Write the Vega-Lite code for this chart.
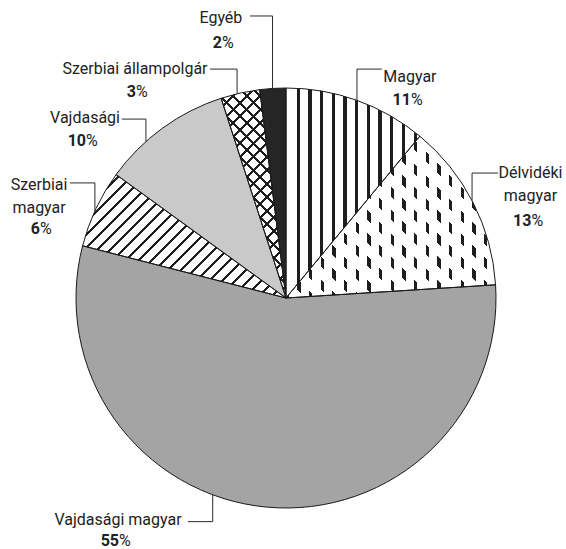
{
  "$schema": "https://vega.github.io/schema/vega-lite/v6.json",
  "width": 560,
  "height": 502,
  "autosize": "none",
  "padding": {"left": 6, "top": 47, "right": 0, "bottom": 0},
  "background": "white",
  "config": {"view": {"stroke": null}},
  "datasets": {
    "shares": [
      {"category": "Magyar", "value": 11},
      {"category": "Délvidéki magyar", "value": 13},
      {"category": "Vajdasági magyar", "value": 55},
      {"category": "Szerbiai magyar", "value": 6},
      {"category": "Vajdasági", "value": 10},
      {"category": "Szerbiai állampolgár", "value": 3},
      {"category": "Egyéb", "value": 2}
    ],
    "labels": [
      {"category": "Magyar", "name": "Magyar", "lx": 0.59, "ly": 1.027, "py": 0.919},
      {"category": "Délvidéki magyar", "name": "Délvidéki\nmagyar", "lx": 1.164, "ly": 0.57, "py": 0.343},
      {"category": "Vajdasági magyar", "name": "Vajdasági magyar", "lx": -0.8, "ly": -1.0786, "py": -1.181},
      {"category": "Szerbiai magyar", "name": "Szerbiai\nmagyar", "lx": -1.176, "ly": 0.514, "py": 0.303},
      {"category": "Vajdasági", "name": "Vajdasági", "lx": -0.957, "ly": 0.835, "py": 0.724},
      {"category": "Szerbiai állampolgár", "name": "Szerbiai állampolgár", "lx": -0.719, "ly": 1.065, "py": 0.959},
      {"category": "Egyéb", "name": "Egyéb", "lx": -0.31, "ly": 1.308, "py": 1.19}
    ],
    "leaders": [
      {"category": "Magyar", "i": 0, "x": 0.456, "y": 1.09},
      {"category": "Magyar", "i": 1, "x": 0.338, "y": 1.09},
      {"category": "Magyar", "i": 2, "x": 0.338, "y": 0.94},
      {"category": "Délvidéki magyar", "i": 0, "x": 1.01, "y": 0.595},
      {"category": "Délvidéki magyar", "i": 1, "x": 0.886, "y": 0.595},
      {"category": "Délvidéki magyar", "i": 2, "x": 0.886, "y": 0.464},
      {"category": "Vajdasági magyar", "i": 0, "x": -0.467, "y": -1.065},
      {"category": "Vajdasági magyar", "i": 1, "x": -0.349, "y": -1.065},
      {"category": "Vajdasági magyar", "i": 2, "x": -0.349, "y": -0.937},
      {"category": "Szerbiai magyar", "i": 0, "x": -1.029, "y": 0.548},
      {"category": "Szerbiai magyar", "i": 1, "x": -0.91, "y": 0.548},
      {"category": "Szerbiai magyar", "i": 2, "x": -0.91, "y": 0.415},
      {"category": "Vajdasági", "i": 0, "x": -0.782, "y": 0.852},
      {"category": "Vajdasági", "i": 1, "x": -0.667, "y": 0.852},
      {"category": "Vajdasági", "i": 2, "x": -0.667, "y": 0.745},
      {"category": "Szerbiai állampolgár", "i": 0, "x": -0.362, "y": 1.09},
      {"category": "Szerbiai állampolgár", "i": 1, "x": -0.233, "y": 1.09},
      {"category": "Szerbiai állampolgár", "i": 2, "x": -0.233, "y": 0.972},
      {"category": "Egyéb", "i": 0, "x": -0.171, "y": 1.343},
      {"category": "Egyéb", "i": 1, "x": -0.064, "y": 1.343},
      {"category": "Egyéb", "i": 2, "x": -0.064, "y": 0.998}
    ]
  },
  "layer": [
    {
      "data": {"name": "shares"},
      "transform": [{"stack": "value", "groupby": [], "as": ["v0", "v1"]}],
      "encoding": {
        "theta": {"field": "v0", "type": "quantitative", "scale": {"domain": [0, 100]}},
        "theta2": {"field": "v1"}
      },
      "layer": [
        {
          "transform": [{"filter": "datum.category === 'Magyar'"}],
          "mark": {"type": "arc", "radius": 210, "fill": {"gradient": "linear", "x1": 0, "y1": 0, "x2": 1, "y2": 0, "stops": [
            {"offset": 0, "color": "#ffffff"}, {"offset": 0.0785, "color": "#ffffff"}, {"offset": 0.0785, "color": "#1e1e1e"}, {"offset": 0.1031, "color": "#1e1e1e"}, {"offset": 0.1031, "color": "#ffffff"},
            {"offset": 0.1659, "color": "#ffffff"}, {"offset": 0.1659, "color": "#1e1e1e"}, {"offset": 0.1906, "color": "#1e1e1e"}, {"offset": 0.1906, "color": "#ffffff"},
            {"offset": 0.2534, "color": "#ffffff"}, {"offset": 0.2534, "color": "#1e1e1e"}, {"offset": 0.278, "color": "#1e1e1e"}, {"offset": 0.278, "color": "#ffffff"},
            {"offset": 0.3408, "color": "#ffffff"}, {"offset": 0.3408, "color": "#1e1e1e"}, {"offset": 0.3655, "color": "#1e1e1e"}, {"offset": 0.3655, "color": "#ffffff"},
            {"offset": 0.4283, "color": "#ffffff"}, {"offset": 0.4283, "color": "#1e1e1e"}, {"offset": 0.4529, "color": "#1e1e1e"}, {"offset": 0.4529, "color": "#ffffff"},
            {"offset": 0.5157, "color": "#ffffff"}, {"offset": 0.5157, "color": "#1e1e1e"}, {"offset": 0.5404, "color": "#1e1e1e"}, {"offset": 0.5404, "color": "#ffffff"},
            {"offset": 0.6031, "color": "#ffffff"}, {"offset": 0.6031, "color": "#1e1e1e"}, {"offset": 0.6278, "color": "#1e1e1e"}, {"offset": 0.6278, "color": "#ffffff"},
            {"offset": 0.6906, "color": "#ffffff"}, {"offset": 0.6906, "color": "#1e1e1e"}, {"offset": 0.7152, "color": "#1e1e1e"}, {"offset": 0.7152, "color": "#ffffff"},
            {"offset": 0.778, "color": "#ffffff"}, {"offset": 0.778, "color": "#1e1e1e"}, {"offset": 0.8027, "color": "#1e1e1e"}, {"offset": 0.8027, "color": "#ffffff"},
            {"offset": 0.8655, "color": "#ffffff"}, {"offset": 0.8655, "color": "#1e1e1e"}, {"offset": 0.8901, "color": "#1e1e1e"}, {"offset": 0.8901, "color": "#ffffff"},
            {"offset": 0.9529, "color": "#ffffff"}, {"offset": 0.9529, "color": "#1e1e1e"}, {"offset": 0.9776, "color": "#1e1e1e"}, {"offset": 0.9776, "color": "#ffffff"},
            {"offset": 1, "color": "#ffffff"}]}}
        },
        {
          "transform": [{"filter": "datum.category === 'Délvidéki magyar'"}],
          "mark": {"type": "arc", "radius": 210, "fill": {"gradient": "linear", "x1": 0, "y1": 0, "x2": 1, "y2": 0, "stops": [
            {"offset": 0, "color": "#1e1e1e"}, {"offset": 0.01455, "color": "#1e1e1e"}, {"offset": 0.01455, "color": "#ffffff"},
            {"offset": 0.05448, "color": "#ffffff"}, {"offset": 0.05448, "color": "#1e1e1e"}, {"offset": 0.07023, "color": "#1e1e1e"}, {"offset": 0.07023, "color": "#ffffff"},
            {"offset": 0.11016, "color": "#ffffff"}, {"offset": 0.11016, "color": "#1e1e1e"}, {"offset": 0.1259, "color": "#1e1e1e"}, {"offset": 0.1259, "color": "#ffffff"},
            {"offset": 0.16584, "color": "#ffffff"}, {"offset": 0.16584, "color": "#1e1e1e"}, {"offset": 0.18158, "color": "#1e1e1e"}, {"offset": 0.18158, "color": "#ffffff"},
            {"offset": 0.22152, "color": "#ffffff"}, {"offset": 0.22152, "color": "#1e1e1e"}, {"offset": 0.23726, "color": "#1e1e1e"}, {"offset": 0.23726, "color": "#ffffff"},
            {"offset": 0.2772, "color": "#ffffff"}, {"offset": 0.2772, "color": "#1e1e1e"}, {"offset": 0.29294, "color": "#1e1e1e"}, {"offset": 0.29294, "color": "#ffffff"},
            {"offset": 0.33287, "color": "#ffffff"}, {"offset": 0.33287, "color": "#1e1e1e"}, {"offset": 0.34862, "color": "#1e1e1e"}, {"offset": 0.34862, "color": "#ffffff"},
            {"offset": 0.38855, "color": "#ffffff"}, {"offset": 0.38855, "color": "#1e1e1e"}, {"offset": 0.4043, "color": "#1e1e1e"}, {"offset": 0.4043, "color": "#ffffff"},
            {"offset": 0.44423, "color": "#ffffff"}, {"offset": 0.44423, "color": "#1e1e1e"}, {"offset": 0.45997, "color": "#1e1e1e"}, {"offset": 0.45997, "color": "#ffffff"},
            {"offset": 0.4999, "color": "#ffffff"}, {"offset": 0.4999, "color": "#1e1e1e"}, {"offset": 0.51565, "color": "#1e1e1e"}, {"offset": 0.51565, "color": "#ffffff"},
            {"offset": 0.55558, "color": "#ffffff"}, {"offset": 0.55558, "color": "#1e1e1e"}, {"offset": 0.57133, "color": "#1e1e1e"}, {"offset": 0.57133, "color": "#ffffff"},
            {"offset": 0.61126, "color": "#ffffff"}, {"offset": 0.61126, "color": "#1e1e1e"}, {"offset": 0.627, "color": "#1e1e1e"}, {"offset": 0.627, "color": "#ffffff"},
            {"offset": 0.66694, "color": "#ffffff"}, {"offset": 0.66694, "color": "#1e1e1e"}, {"offset": 0.68268, "color": "#1e1e1e"}, {"offset": 0.68268, "color": "#ffffff"},
            {"offset": 0.72262, "color": "#ffffff"}, {"offset": 0.72262, "color": "#1e1e1e"}, {"offset": 0.73836, "color": "#1e1e1e"}, {"offset": 0.73836, "color": "#ffffff"},
            {"offset": 0.77829, "color": "#ffffff"}, {"offset": 0.77829, "color": "#1e1e1e"}, {"offset": 0.79404, "color": "#1e1e1e"}, {"offset": 0.79404, "color": "#ffffff"},
            {"offset": 0.83397, "color": "#ffffff"}, {"offset": 0.83397, "color": "#1e1e1e"}, {"offset": 0.84971, "color": "#1e1e1e"}, {"offset": 0.84971, "color": "#ffffff"},
            {"offset": 0.88965, "color": "#ffffff"}, {"offset": 0.88965, "color": "#1e1e1e"}, {"offset": 0.90539, "color": "#1e1e1e"}, {"offset": 0.90539, "color": "#ffffff"},
            {"offset": 0.94532, "color": "#ffffff"}, {"offset": 0.94532, "color": "#1e1e1e"}, {"offset": 0.96107, "color": "#1e1e1e"}, {"offset": 0.96107, "color": "#ffffff"},
            {"offset": 1, "color": "#ffffff"}]}}
        },
        {
          "transform": [{"filter": "datum.category === 'Délvidéki magyar'"}],
          "mark": {"type": "arc", "radius": 210, "fill": {"gradient": "linear", "x1": 1, "y1": 0, "x2": -0.1103, "y2": 0.8571, "stops": [
            {"offset": 0, "color": "rgba(255,255,255,0)"}, {"offset": 0.0051, "color": "rgba(255,255,255,0)"}, {"offset": 0.0051, "color": "#ffffff"},
            {"offset": 0.0409, "color": "#ffffff"}, {"offset": 0.0409, "color": "rgba(255,255,255,0)"}, {"offset": 0.0679, "color": "rgba(255,255,255,0)"}, {"offset": 0.0679, "color": "#ffffff"},
            {"offset": 0.1037, "color": "#ffffff"}, {"offset": 0.1037, "color": "rgba(255,255,255,0)"}, {"offset": 0.1306, "color": "rgba(255,255,255,0)"}, {"offset": 0.1306, "color": "#ffffff"},
            {"offset": 0.1664, "color": "#ffffff"}, {"offset": 0.1664, "color": "rgba(255,255,255,0)"}, {"offset": 0.1933, "color": "rgba(255,255,255,0)"}, {"offset": 0.1933, "color": "#ffffff"},
            {"offset": 0.2291, "color": "#ffffff"}, {"offset": 0.2291, "color": "rgba(255,255,255,0)"}, {"offset": 0.2561, "color": "rgba(255,255,255,0)"}, {"offset": 0.2561, "color": "#ffffff"},
            {"offset": 0.2919, "color": "#ffffff"}, {"offset": 0.2919, "color": "rgba(255,255,255,0)"}, {"offset": 0.3188, "color": "rgba(255,255,255,0)"}, {"offset": 0.3188, "color": "#ffffff"},
            {"offset": 0.3546, "color": "#ffffff"}, {"offset": 0.3546, "color": "rgba(255,255,255,0)"}, {"offset": 0.3815, "color": "rgba(255,255,255,0)"}, {"offset": 0.3815, "color": "#ffffff"},
            {"offset": 0.4173, "color": "#ffffff"}, {"offset": 0.4173, "color": "rgba(255,255,255,0)"}, {"offset": 0.4443, "color": "rgba(255,255,255,0)"}, {"offset": 0.4443, "color": "#ffffff"},
            {"offset": 0.4801, "color": "#ffffff"}, {"offset": 0.4801, "color": "rgba(255,255,255,0)"}, {"offset": 0.507, "color": "rgba(255,255,255,0)"}, {"offset": 0.507, "color": "#ffffff"},
            {"offset": 0.5428, "color": "#ffffff"}, {"offset": 0.5428, "color": "rgba(255,255,255,0)"}, {"offset": 0.5697, "color": "rgba(255,255,255,0)"}, {"offset": 0.5697, "color": "#ffffff"},
            {"offset": 0.6055, "color": "#ffffff"}, {"offset": 0.6055, "color": "rgba(255,255,255,0)"}, {"offset": 0.6325, "color": "rgba(255,255,255,0)"}, {"offset": 0.6325, "color": "#ffffff"},
            {"offset": 0.6683, "color": "#ffffff"}, {"offset": 0.6683, "color": "rgba(255,255,255,0)"}, {"offset": 0.6952, "color": "rgba(255,255,255,0)"}, {"offset": 0.6952, "color": "#ffffff"},
            {"offset": 0.731, "color": "#ffffff"}, {"offset": 0.731, "color": "rgba(255,255,255,0)"}, {"offset": 0.7579, "color": "rgba(255,255,255,0)"}, {"offset": 0.7579, "color": "#ffffff"},
            {"offset": 0.7937, "color": "#ffffff"}, {"offset": 0.7937, "color": "rgba(255,255,255,0)"}, {"offset": 0.8207, "color": "rgba(255,255,255,0)"}, {"offset": 0.8207, "color": "#ffffff"},
            {"offset": 0.8565, "color": "#ffffff"}, {"offset": 0.8565, "color": "rgba(255,255,255,0)"}, {"offset": 0.8834, "color": "rgba(255,255,255,0)"}, {"offset": 0.8834, "color": "#ffffff"},
            {"offset": 0.9192, "color": "#ffffff"}, {"offset": 0.9192, "color": "rgba(255,255,255,0)"}, {"offset": 0.9462, "color": "rgba(255,255,255,0)"}, {"offset": 0.9462, "color": "#ffffff"},
            {"offset": 0.982, "color": "#ffffff"}, {"offset": 0.982, "color": "rgba(255,255,255,0)"}, {"offset": 1, "color": "rgba(255,255,255,0)"}]}}
        },
        {
          "transform": [{"filter": "datum.category === 'Vajdasági magyar'"}],
          "mark": {"type": "arc", "radius": 210, "fill": "#a4a4a4"}
        },
        {
          "transform": [{"filter": "datum.category === 'Szerbiai magyar'"}],
          "mark": {"type": "arc", "radius": 210, "fill": {"gradient": "linear", "x1": 0, "y1": 0, "x2": 1.1744, "y2": 0.7125, "stops": [
            {"offset": 0, "color": "#ffffff"}, {"offset": 0.03075, "color": "#ffffff"}, {"offset": 0.03075, "color": "#1e1e1e"}, {"offset": 0.04146, "color": "#1e1e1e"}, {"offset": 0.04146, "color": "#ffffff"},
            {"offset": 0.07053, "color": "#ffffff"}, {"offset": 0.07053, "color": "#1e1e1e"}, {"offset": 0.08124, "color": "#1e1e1e"}, {"offset": 0.08124, "color": "#ffffff"},
            {"offset": 0.11031, "color": "#ffffff"}, {"offset": 0.11031, "color": "#1e1e1e"}, {"offset": 0.12102, "color": "#1e1e1e"}, {"offset": 0.12102, "color": "#ffffff"},
            {"offset": 0.15009, "color": "#ffffff"}, {"offset": 0.15009, "color": "#1e1e1e"}, {"offset": 0.1608, "color": "#1e1e1e"}, {"offset": 0.1608, "color": "#ffffff"},
            {"offset": 0.18987, "color": "#ffffff"}, {"offset": 0.18987, "color": "#1e1e1e"}, {"offset": 0.20058, "color": "#1e1e1e"}, {"offset": 0.20058, "color": "#ffffff"},
            {"offset": 0.22965, "color": "#ffffff"}, {"offset": 0.22965, "color": "#1e1e1e"}, {"offset": 0.24036, "color": "#1e1e1e"}, {"offset": 0.24036, "color": "#ffffff"},
            {"offset": 0.26943, "color": "#ffffff"}, {"offset": 0.26943, "color": "#1e1e1e"}, {"offset": 0.28014, "color": "#1e1e1e"}, {"offset": 0.28014, "color": "#ffffff"},
            {"offset": 0.30921, "color": "#ffffff"}, {"offset": 0.30921, "color": "#1e1e1e"}, {"offset": 0.31992, "color": "#1e1e1e"}, {"offset": 0.31992, "color": "#ffffff"},
            {"offset": 0.34899, "color": "#ffffff"}, {"offset": 0.34899, "color": "#1e1e1e"}, {"offset": 0.3597, "color": "#1e1e1e"}, {"offset": 0.3597, "color": "#ffffff"},
            {"offset": 0.38877, "color": "#ffffff"}, {"offset": 0.38877, "color": "#1e1e1e"}, {"offset": 0.39948, "color": "#1e1e1e"}, {"offset": 0.39948, "color": "#ffffff"},
            {"offset": 0.42855, "color": "#ffffff"}, {"offset": 0.42855, "color": "#1e1e1e"}, {"offset": 0.43926, "color": "#1e1e1e"}, {"offset": 0.43926, "color": "#ffffff"},
            {"offset": 0.46833, "color": "#ffffff"}, {"offset": 0.46833, "color": "#1e1e1e"}, {"offset": 0.47904, "color": "#1e1e1e"}, {"offset": 0.47904, "color": "#ffffff"},
            {"offset": 0.50811, "color": "#ffffff"}, {"offset": 0.50811, "color": "#1e1e1e"}, {"offset": 0.51882, "color": "#1e1e1e"}, {"offset": 0.51882, "color": "#ffffff"},
            {"offset": 0.54789, "color": "#ffffff"}, {"offset": 0.54789, "color": "#1e1e1e"}, {"offset": 0.5586, "color": "#1e1e1e"}, {"offset": 0.5586, "color": "#ffffff"},
            {"offset": 0.58767, "color": "#ffffff"}, {"offset": 0.58767, "color": "#1e1e1e"}, {"offset": 0.59838, "color": "#1e1e1e"}, {"offset": 0.59838, "color": "#ffffff"},
            {"offset": 0.62745, "color": "#ffffff"}, {"offset": 0.62745, "color": "#1e1e1e"}, {"offset": 0.63816, "color": "#1e1e1e"}, {"offset": 0.63816, "color": "#ffffff"},
            {"offset": 0.66723, "color": "#ffffff"}, {"offset": 0.66723, "color": "#1e1e1e"}, {"offset": 0.67794, "color": "#1e1e1e"}, {"offset": 0.67794, "color": "#ffffff"},
            {"offset": 0.70701, "color": "#ffffff"}, {"offset": 0.70701, "color": "#1e1e1e"}, {"offset": 0.71772, "color": "#1e1e1e"}, {"offset": 0.71772, "color": "#ffffff"},
            {"offset": 0.74679, "color": "#ffffff"}, {"offset": 0.74679, "color": "#1e1e1e"}, {"offset": 0.7575, "color": "#1e1e1e"}, {"offset": 0.7575, "color": "#ffffff"},
            {"offset": 0.78657, "color": "#ffffff"}, {"offset": 0.78657, "color": "#1e1e1e"}, {"offset": 0.79728, "color": "#1e1e1e"}, {"offset": 0.79728, "color": "#ffffff"},
            {"offset": 0.82635, "color": "#ffffff"}, {"offset": 0.82635, "color": "#1e1e1e"}, {"offset": 0.83706, "color": "#1e1e1e"}, {"offset": 0.83706, "color": "#ffffff"},
            {"offset": 0.86613, "color": "#ffffff"}, {"offset": 0.86613, "color": "#1e1e1e"}, {"offset": 0.87684, "color": "#1e1e1e"}, {"offset": 0.87684, "color": "#ffffff"},
            {"offset": 0.90591, "color": "#ffffff"}, {"offset": 0.90591, "color": "#1e1e1e"}, {"offset": 0.91662, "color": "#1e1e1e"}, {"offset": 0.91662, "color": "#ffffff"},
            {"offset": 0.94569, "color": "#ffffff"}, {"offset": 0.94569, "color": "#1e1e1e"}, {"offset": 0.9564, "color": "#1e1e1e"}, {"offset": 0.9564, "color": "#ffffff"},
            {"offset": 0.98547, "color": "#ffffff"}, {"offset": 0.98547, "color": "#1e1e1e"}, {"offset": 0.99618, "color": "#1e1e1e"}, {"offset": 0.99618, "color": "#ffffff"},
            {"offset": 1, "color": "#ffffff"}]}}
        },
        {
          "transform": [{"filter": "datum.category === 'Vajdasági'"}],
          "mark": {"type": "arc", "radius": 210, "fill": "#c9c9c9"}
        },
        {
          "transform": [{"filter": "datum.category === 'Szerbiai állampolgár'"}],
          "mark": {"type": "arc", "radius": 210, "fill": "#ffffff"}
        },
        {
          "transform": [{"filter": "datum.category === 'Szerbiai állampolgár'"}],
          "mark": {"type": "arc", "radius": 210, "fill": {"gradient": "linear", "x1": 0, "y1": 0, "x2": 0.3725, "y2": 1.1955, "stops": [
            {"offset": 0, "color": "rgba(30,30,30,0)"}, {"offset": 0.01245, "color": "rgba(30,30,30,0)"}, {"offset": 0.01245, "color": "#1e1e1e"}, {"offset": 0.02416, "color": "#1e1e1e"}, {"offset": 0.02416, "color": "rgba(30,30,30,0)"},
            {"offset": 0.06186, "color": "rgba(30,30,30,0)"}, {"offset": 0.06186, "color": "#1e1e1e"}, {"offset": 0.07357, "color": "#1e1e1e"}, {"offset": 0.07357, "color": "rgba(30,30,30,0)"},
            {"offset": 0.11128, "color": "rgba(30,30,30,0)"}, {"offset": 0.11128, "color": "#1e1e1e"}, {"offset": 0.12299, "color": "#1e1e1e"}, {"offset": 0.12299, "color": "rgba(30,30,30,0)"},
            {"offset": 0.16069, "color": "rgba(30,30,30,0)"}, {"offset": 0.16069, "color": "#1e1e1e"}, {"offset": 0.1724, "color": "#1e1e1e"}, {"offset": 0.1724, "color": "rgba(30,30,30,0)"},
            {"offset": 0.21011, "color": "rgba(30,30,30,0)"}, {"offset": 0.21011, "color": "#1e1e1e"}, {"offset": 0.22182, "color": "#1e1e1e"}, {"offset": 0.22182, "color": "rgba(30,30,30,0)"},
            {"offset": 0.25952, "color": "rgba(30,30,30,0)"}, {"offset": 0.25952, "color": "#1e1e1e"}, {"offset": 0.27123, "color": "#1e1e1e"}, {"offset": 0.27123, "color": "rgba(30,30,30,0)"},
            {"offset": 0.30893, "color": "rgba(30,30,30,0)"}, {"offset": 0.30893, "color": "#1e1e1e"}, {"offset": 0.32064, "color": "#1e1e1e"}, {"offset": 0.32064, "color": "rgba(30,30,30,0)"},
            {"offset": 0.35835, "color": "rgba(30,30,30,0)"}, {"offset": 0.35835, "color": "#1e1e1e"}, {"offset": 0.37006, "color": "#1e1e1e"}, {"offset": 0.37006, "color": "rgba(30,30,30,0)"},
            {"offset": 0.40776, "color": "rgba(30,30,30,0)"}, {"offset": 0.40776, "color": "#1e1e1e"}, {"offset": 0.41947, "color": "#1e1e1e"}, {"offset": 0.41947, "color": "rgba(30,30,30,0)"},
            {"offset": 0.45718, "color": "rgba(30,30,30,0)"}, {"offset": 0.45718, "color": "#1e1e1e"}, {"offset": 0.46889, "color": "#1e1e1e"}, {"offset": 0.46889, "color": "rgba(30,30,30,0)"},
            {"offset": 0.50659, "color": "rgba(30,30,30,0)"}, {"offset": 0.50659, "color": "#1e1e1e"}, {"offset": 0.5183, "color": "#1e1e1e"}, {"offset": 0.5183, "color": "rgba(30,30,30,0)"},
            {"offset": 0.556, "color": "rgba(30,30,30,0)"}, {"offset": 0.556, "color": "#1e1e1e"}, {"offset": 0.56771, "color": "#1e1e1e"}, {"offset": 0.56771, "color": "rgba(30,30,30,0)"},
            {"offset": 0.60542, "color": "rgba(30,30,30,0)"}, {"offset": 0.60542, "color": "#1e1e1e"}, {"offset": 0.61713, "color": "#1e1e1e"}, {"offset": 0.61713, "color": "rgba(30,30,30,0)"},
            {"offset": 0.65483, "color": "rgba(30,30,30,0)"}, {"offset": 0.65483, "color": "#1e1e1e"}, {"offset": 0.66654, "color": "#1e1e1e"}, {"offset": 0.66654, "color": "rgba(30,30,30,0)"},
            {"offset": 0.70425, "color": "rgba(30,30,30,0)"}, {"offset": 0.70425, "color": "#1e1e1e"}, {"offset": 0.71596, "color": "#1e1e1e"}, {"offset": 0.71596, "color": "rgba(30,30,30,0)"},
            {"offset": 0.75366, "color": "rgba(30,30,30,0)"}, {"offset": 0.75366, "color": "#1e1e1e"}, {"offset": 0.76537, "color": "#1e1e1e"}, {"offset": 0.76537, "color": "rgba(30,30,30,0)"},
            {"offset": 0.80307, "color": "rgba(30,30,30,0)"}, {"offset": 0.80307, "color": "#1e1e1e"}, {"offset": 0.81478, "color": "#1e1e1e"}, {"offset": 0.81478, "color": "rgba(30,30,30,0)"},
            {"offset": 0.85249, "color": "rgba(30,30,30,0)"}, {"offset": 0.85249, "color": "#1e1e1e"}, {"offset": 0.8642, "color": "#1e1e1e"}, {"offset": 0.8642, "color": "rgba(30,30,30,0)"},
            {"offset": 0.9019, "color": "rgba(30,30,30,0)"}, {"offset": 0.9019, "color": "#1e1e1e"}, {"offset": 0.91361, "color": "#1e1e1e"}, {"offset": 0.91361, "color": "rgba(30,30,30,0)"},
            {"offset": 0.95132, "color": "rgba(30,30,30,0)"}, {"offset": 0.95132, "color": "#1e1e1e"}, {"offset": 0.96303, "color": "#1e1e1e"}, {"offset": 0.96303, "color": "rgba(30,30,30,0)"},
            {"offset": 1, "color": "rgba(30,30,30,0)"}]}}
        },
        {
          "transform": [{"filter": "datum.category === 'Szerbiai állampolgár'"}],
          "mark": {"type": "arc", "radius": 210, "fill": {"gradient": "linear", "x1": 1, "y1": 0, "x2": 0.6275, "y2": 1.1955, "stops": [
            {"offset": 0, "color": "rgba(30,30,30,0)"}, {"offset": 0.01245, "color": "rgba(30,30,30,0)"}, {"offset": 0.01245, "color": "#1e1e1e"}, {"offset": 0.02416, "color": "#1e1e1e"}, {"offset": 0.02416, "color": "rgba(30,30,30,0)"},
            {"offset": 0.06186, "color": "rgba(30,30,30,0)"}, {"offset": 0.06186, "color": "#1e1e1e"}, {"offset": 0.07357, "color": "#1e1e1e"}, {"offset": 0.07357, "color": "rgba(30,30,30,0)"},
            {"offset": 0.11128, "color": "rgba(30,30,30,0)"}, {"offset": 0.11128, "color": "#1e1e1e"}, {"offset": 0.12299, "color": "#1e1e1e"}, {"offset": 0.12299, "color": "rgba(30,30,30,0)"},
            {"offset": 0.16069, "color": "rgba(30,30,30,0)"}, {"offset": 0.16069, "color": "#1e1e1e"}, {"offset": 0.1724, "color": "#1e1e1e"}, {"offset": 0.1724, "color": "rgba(30,30,30,0)"},
            {"offset": 0.21011, "color": "rgba(30,30,30,0)"}, {"offset": 0.21011, "color": "#1e1e1e"}, {"offset": 0.22182, "color": "#1e1e1e"}, {"offset": 0.22182, "color": "rgba(30,30,30,0)"},
            {"offset": 0.25952, "color": "rgba(30,30,30,0)"}, {"offset": 0.25952, "color": "#1e1e1e"}, {"offset": 0.27123, "color": "#1e1e1e"}, {"offset": 0.27123, "color": "rgba(30,30,30,0)"},
            {"offset": 0.30893, "color": "rgba(30,30,30,0)"}, {"offset": 0.30893, "color": "#1e1e1e"}, {"offset": 0.32064, "color": "#1e1e1e"}, {"offset": 0.32064, "color": "rgba(30,30,30,0)"},
            {"offset": 0.35835, "color": "rgba(30,30,30,0)"}, {"offset": 0.35835, "color": "#1e1e1e"}, {"offset": 0.37006, "color": "#1e1e1e"}, {"offset": 0.37006, "color": "rgba(30,30,30,0)"},
            {"offset": 0.40776, "color": "rgba(30,30,30,0)"}, {"offset": 0.40776, "color": "#1e1e1e"}, {"offset": 0.41947, "color": "#1e1e1e"}, {"offset": 0.41947, "color": "rgba(30,30,30,0)"},
            {"offset": 0.45718, "color": "rgba(30,30,30,0)"}, {"offset": 0.45718, "color": "#1e1e1e"}, {"offset": 0.46889, "color": "#1e1e1e"}, {"offset": 0.46889, "color": "rgba(30,30,30,0)"},
            {"offset": 0.50659, "color": "rgba(30,30,30,0)"}, {"offset": 0.50659, "color": "#1e1e1e"}, {"offset": 0.5183, "color": "#1e1e1e"}, {"offset": 0.5183, "color": "rgba(30,30,30,0)"},
            {"offset": 0.556, "color": "rgba(30,30,30,0)"}, {"offset": 0.556, "color": "#1e1e1e"}, {"offset": 0.56771, "color": "#1e1e1e"}, {"offset": 0.56771, "color": "rgba(30,30,30,0)"},
            {"offset": 0.60542, "color": "rgba(30,30,30,0)"}, {"offset": 0.60542, "color": "#1e1e1e"}, {"offset": 0.61713, "color": "#1e1e1e"}, {"offset": 0.61713, "color": "rgba(30,30,30,0)"},
            {"offset": 0.65483, "color": "rgba(30,30,30,0)"}, {"offset": 0.65483, "color": "#1e1e1e"}, {"offset": 0.66654, "color": "#1e1e1e"}, {"offset": 0.66654, "color": "rgba(30,30,30,0)"},
            {"offset": 0.70425, "color": "rgba(30,30,30,0)"}, {"offset": 0.70425, "color": "#1e1e1e"}, {"offset": 0.71596, "color": "#1e1e1e"}, {"offset": 0.71596, "color": "rgba(30,30,30,0)"},
            {"offset": 0.75366, "color": "rgba(30,30,30,0)"}, {"offset": 0.75366, "color": "#1e1e1e"}, {"offset": 0.76537, "color": "#1e1e1e"}, {"offset": 0.76537, "color": "rgba(30,30,30,0)"},
            {"offset": 0.80307, "color": "rgba(30,30,30,0)"}, {"offset": 0.80307, "color": "#1e1e1e"}, {"offset": 0.81478, "color": "#1e1e1e"}, {"offset": 0.81478, "color": "rgba(30,30,30,0)"},
            {"offset": 0.85249, "color": "rgba(30,30,30,0)"}, {"offset": 0.85249, "color": "#1e1e1e"}, {"offset": 0.8642, "color": "#1e1e1e"}, {"offset": 0.8642, "color": "rgba(30,30,30,0)"},
            {"offset": 0.9019, "color": "rgba(30,30,30,0)"}, {"offset": 0.9019, "color": "#1e1e1e"}, {"offset": 0.91361, "color": "#1e1e1e"}, {"offset": 0.91361, "color": "rgba(30,30,30,0)"},
            {"offset": 0.95132, "color": "rgba(30,30,30,0)"}, {"offset": 0.95132, "color": "#1e1e1e"}, {"offset": 0.96303, "color": "#1e1e1e"}, {"offset": 0.96303, "color": "rgba(30,30,30,0)"},
            {"offset": 1, "color": "rgba(30,30,30,0)"}]}}
        },
        {
          "transform": [{"filter": "datum.category === 'Egyéb'"}],
          "mark": {"type": "arc", "radius": 210, "fill": "#262626"}
        },
        {
          "mark": {"type": "arc", "radius": 210, "filled": false, "stroke": "#1a1a1a", "strokeWidth": 1}
        }
      ]
    },
    {
      "data": {"name": "leaders"},
      "mark": {"type": "line", "stroke": "#2a2a2a", "strokeWidth": 1},
      "encoding": {
        "x": {"field": "x", "type": "quantitative", "scale": {"domain": [-1.33333, 1.33333], "nice": false, "zero": false}, "axis": null},
        "y": {"field": "y", "type": "quantitative", "scale": {"domain": [-1.19524, 1.19524], "nice": false, "zero": false}, "axis": null},
        "detail": {"field": "category"},
        "order": {"field": "i"}
      }
    },
    {
      "data": {"name": "labels"},
      "transform": [{"lookup": "category", "from": {"data": {"name": "shares"}, "key": "category", "fields": ["value"]}}],
      "encoding": {
        "x": {"field": "lx", "type": "quantitative", "axis": null}
      },
      "layer": [
        {
          "mark": {"type": "text", "font": "Roboto", "fontSize": 16, "lineBreak": "\n", "lineHeight": 23, "align": "center", "baseline": "alphabetic", "color": "#222222"},
          "encoding": {
            "y": {"field": "ly", "type": "quantitative", "axis": null},
            "text": {"field": "name"}
          }
        },
        {
          "mark": {"type": "text", "font": "Roboto", "fontSize": 16, "fontWeight": "bold", "align": "right", "baseline": "alphabetic", "dx": 1, "color": "#222222"},
          "encoding": {
            "y": {"field": "py", "type": "quantitative", "axis": null},
            "text": {"field": "value", "type": "quantitative"}
          }
        },
        {
          "mark": {"type": "text", "font": "Roboto", "fontSize": 16, "align": "left", "baseline": "alphabetic", "dx": 1, "text": "%", "color": "#222222"},
          "encoding": {
            "y": {"field": "py", "type": "quantitative", "axis": null}
          }
        }
      ]
    }
  ]
}
